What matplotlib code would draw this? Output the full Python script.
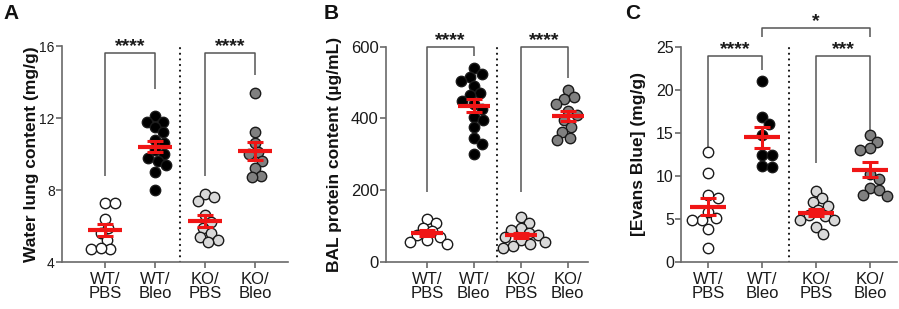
import numpy as np
import matplotlib
matplotlib.use("Agg")
import matplotlib.pyplot as plt

plt.rcParams['font.family'] = ['Liberation Sans', 'DejaVu Sans']

groups = ["WT/\nPBS", "WT/\nBleo", "KO/\nPBS", "KO/\nBleo"]
fills = ["white", "black", "#d9d9d9", "#808080"]

# panel A - water lung content (mg/g)
water_wt_pbs = [7.3, 7.3, 6.4, 5.9, 5.6, 5.2, 4.7, 4.7, 4.8]
water_wt_bleo = [12.1, 11.8, 11.8, 11.5, 11.2, 10.8, 10.6, 10.2, 10.0, 9.8, 9.6, 9.4, 9.0, 8.0]
water_ko_pbs = [7.8, 7.6, 7.4, 6.6, 6.2, 5.9, 5.6, 5.4, 5.2, 5.1]
water_ko_bleo = [13.4, 11.2, 10.6, 10.1, 10.0, 9.6, 9.2, 8.8, 8.7]

# panel B - BAL protein (ug/mL)
bal_wt_pbs = [120, 110, 95, 85, 75, 70, 60, 55, 50]
bal_wt_bleo = [540, 525, 515, 505, 490, 470, 465, 450, 440, 425, 405, 395, 375, 345, 330, 300]
bal_ko_pbs = [125, 110, 95, 90, 80, 75, 70, 60, 55, 50, 45, 38]
bal_ko_bleo = [480, 460, 455, 440, 420, 410, 395, 375, 362, 345, 340]

# panel C - Evans blue (mg/g)
eb_wt_pbs = [12.8, 10.3, 7.8, 7.5, 5.8, 5.1, 4.9, 4.9, 3.8, 1.6]
eb_wt_bleo = [21.0, 16.9, 16.1, 14.8, 12.5, 12.4, 11.2, 11.1]
eb_ko_pbs = [8.3, 7.4, 7.0, 6.5, 6.0, 5.5, 5.3, 4.9, 4.9, 4.1, 3.3]
eb_ko_bleo = [14.8, 14.0, 13.3, 13.0, 10.2, 9.6, 8.6, 8.4, 7.8, 7.7]

W, H = 899, 309
fig = plt.figure(figsize=(W / 100, H / 100), dpi=100)

DIAM = 10.4  # marker diameter in px


def swarm_x(ax, x0, vals):
    pts = ax.transData.transform(np.column_stack([np.full(len(vals), x0), vals]))
    ys = pts[:, 1]
    xc = pts[0, 0]
    d = DIAM * 0.92
    placed = []
    out = np.zeros(len(vals))
    for i in np.argsort(-ys):
        y = ys[i]
        chosen = 0.0
        for k in range(0, 80):
            cands = [0.0] if k == 0 else [k * 0.5, -k * 0.5]
            ok = None
            for dx in cands:
                if all((dx - px) ** 2 + (y - py) ** 2 >= d * d for px, py in placed):
                    ok = dx
                    break
            if ok is not None:
                chosen = ok
                break
        placed.append((chosen, y))
        out[i] = chosen
    back = ax.transData.inverted().transform(np.column_stack([xc + out, ys]))
    return back[:, 0]


def bracket(ax, x1, x2, y, y1, y2, txt):
    ax.plot([x1, x1, x2, x2], [y1, y, y, y2], color="#555555", lw=1.1,
            clip_on=False, solid_capstyle="butt")
    ax.annotate(txt, xy=((x1 + x2) / 2, y), xytext=(0, 1.5), textcoords="offset points",
                ha="center", va="baseline", fontsize=14, fontweight="bold",
                color="#1a1a1a", annotation_clip=False)


panels = [
    dict(left=62, right=288, top=46, ylim=(4, 16), yticks=[4, 8, 12, 16],
         xlim=(-0.86, 3.66), ylabel="Water lung content (mg/g)", lab_x=39, tsize=10,
         data=[water_wt_pbs, water_wt_bleo, water_ko_pbs, water_ko_bleo],
         letter="A", letter_x=3,
         brackets=[(0, 1, 15.6, 8.8, 13.6, "****"), (2, 3, 15.6, 8.8, 14.4, "****")]),
    dict(left=386, right=588, top=46.7, ylim=(0, 600), yticks=[0, 200, 400, 600],
         xlim=(-0.87, 3.43), ylabel="BAL protein content (µg/mL)", lab_x=342, tsize=12,
         data=[bal_wt_pbs, bal_wt_bleo, bal_ko_pbs, bal_ko_bleo],
         letter="B", letter_x=324,
         brackets=[(0, 1, 600, 196, 573, "****"), (2, 3, 600, 196, 513, "****")]),
    dict(left=681, right=897, top=47, ylim=(0, 25), yticks=[0, 5, 10, 15, 20, 25],
         xlim=(-0.5, 3.5), ylabel="[Evans Blue] (mg/g)", lab_x=646, tsize=11.5,
         data=[eb_wt_pbs, eb_wt_bleo, eb_ko_pbs, eb_ko_bleo],
         letter="C", letter_x=625,
         brackets=[(0, 1, 23.9, 13.4, 22.3, "****"), (2, 3, 23.9, 11.5, 15.0, "***"),
                   (1, 3, 27.2, 26.2, 26.2, "*")]),
]

bottom_px = 262
for p in panels:
    ax = fig.add_axes([p["left"] / W, (H - bottom_px) / H,
                       (p["right"] - p["left"]) / W, (bottom_px - p["top"]) / H])
    ax.set_xlim(*p["xlim"])
    ax.set_ylim(*p["ylim"])
    for s in ["top", "right"]:
        ax.spines[s].set_visible(False)
    for s in ["left", "bottom"]:
        ax.spines[s].set_color("#6a6a6a")
        ax.spines[s].set_linewidth(1.2)
    ax.set_yticks(p["yticks"])
    ax.set_xticks(range(4))
    ax.set_xticklabels(groups, linespacing=0.9, fontsize=12)
    ax.tick_params(axis="both", color="#6a6a6a", width=1.2, length=4,
                   labelcolor="#1a1a1a")
    ax.tick_params(axis="y", labelsize=p["tsize"], pad=1.2)
    ax.tick_params(axis="x", pad=3, labelsize=12)
    ax.set_ylabel(p["ylabel"], fontsize=12.5, fontweight="bold", color="#111111")
    ax.yaxis.set_label_coords((p["lab_x"] - p["left"]) / (p["right"] - p["left"]), 0.5)
    ax.axvline(1.5, color="#111111", lw=1.5, ls=(0, (0.1, 2.6)), dash_capstyle="round")

    for i, vals in enumerate(p["data"]):
        vals = np.asarray(vals, dtype=float)
        xs = swarm_x(ax, i, vals)
        ax.scatter(xs, vals, s=7.5 ** 2, c=fills[i], edgecolors="#1a1a1a",
                   linewidths=1.0, zorder=3, clip_on=False)
        m = vals.mean()
        sem = vals.std(ddof=1) / np.sqrt(len(vals))
        ax.hlines(m, i - 0.34, i + 0.34, color="#f01515", lw=3.0, zorder=4)
        ax.errorbar(i, m, yerr=sem, fmt="none", ecolor="#f01515", elinewidth=2.2,
                    capsize=6, capthick=2.2, zorder=4)

    for b in p["brackets"]:
        bracket(ax, *b)

    fig.text(p["letter_x"] / W, 1 - 19 / H, p["letter"], fontsize=15,
             fontweight="bold", color="#111111", va="baseline", ha="left")

fig.savefig("out.png", dpi=100)
